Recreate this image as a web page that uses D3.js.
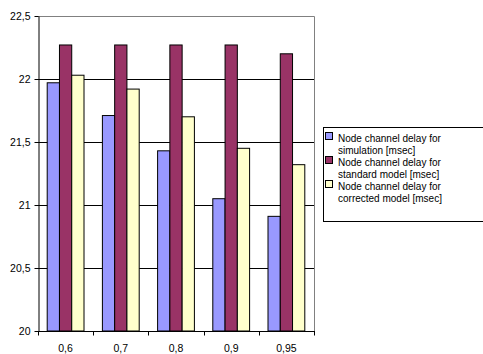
<!DOCTYPE html>
<html>
<head>
<meta charset="utf-8">
<script src="https://cdn.jsdelivr.net/npm/d3@7"></script>
<style>
  html, body { margin: 0; padding: 0; background: #fff; }
  svg { display: block; font-family: Arial, "Liberation Sans", sans-serif; }
</style>
</head>
<body>
<svg id="chart" width="483" height="354"></svg>
<script>
// Load factor categories and delay values per series (msec)
const categories = ["0,6", "0,7", "0,8", "0,9", "0,95"];
const simulation = [21.97, 21.71, 21.43, 21.05, 20.91];
const standardModel = [22.27, 22.27, 22.27, 22.27, 22.20];
const correctedModel = [22.03, 21.92, 21.70, 21.45, 21.32];
const seriesNames = [
  ["Node channel delay for", "simulation [msec]"],
  ["Node channel delay for", "standard model [msec]"],
  ["Node channel delay for", "corrected model [msec]"]
];
const seriesColors = ["#9999ff", "#993366", "#ffffcc"];
const yTicks = [20, 20.5, 21, 21.5, 22, 22.5];

const series = [simulation, standardModel, correctedModel];

const svg = d3.select("#chart");
const plot = { left: 38, right: 314, top: 16, bottom: 331 };

const x = d3.scaleBand().domain(categories).range([plot.left, plot.right]).padding(0);
const y = d3.scaleLinear().domain([20, 22.5]).range([plot.bottom, plot.top]);
const fmt = d => d3.format("")(d).replace(".", ",");

// Gridlines
svg.append("g")
  .selectAll("line")
  .data(yTicks.slice(1, -1))
  .join("line")
  .attr("x1", plot.left).attr("x2", plot.right)
  .attr("y1", d => Math.round(y(d)) + 0.5).attr("y2", d => Math.round(y(d)) + 0.5)
  .attr("stroke", "#000").attr("stroke-width", 1);

// Plot area frame (top and right)
svg.append("path")
  .attr("d", `M${plot.left},${plot.top + 0.5}H${plot.right + 0.5}V${plot.bottom}`)
  .attr("fill", "none").attr("stroke", "#808080").attr("stroke-width", 1);

// Bars: gap between groups is 150% of a bar width
const bw = x.bandwidth() / 4.5;
const groups = svg.append("g")
  .selectAll("g")
  .data(categories)
  .join("g");

groups.selectAll("rect")
  .data((c, ci) => series.map((s, si) => ({ c, si, v: s[ci] })))
  .join("rect")
  .attr("x", d => x(d.c) + 0.75 * bw + d.si * bw)
  .attr("width", bw)
  .attr("y", d => y(d.v))
  .attr("height", d => y(20) - y(d.v))
  .attr("fill", d => seriesColors[d.si])
  .attr("stroke", "#000")
  .attr("stroke-width", 1);

// Y axis
const yAxis = svg.append("g")
  .attr("transform", `translate(${plot.left + 0.5},0)`)
  .call(d3.axisLeft(y).tickValues(yTicks).tickFormat(fmt).tickSizeInner(4).tickSizeOuter(0).tickPadding(4));
yAxis.select(".domain").attr("stroke", "#000");
yAxis.selectAll("text").attr("font-size", 10.5).attr("fill", "#000");

// X axis: tick marks sit between categories
const xAxis = svg.append("g")
  .attr("transform", `translate(0,${plot.bottom + 0.5})`);
xAxis.append("line")
  .attr("x1", plot.left).attr("x2", plot.right + 1)
  .attr("stroke", "#000");
const boundaries = categories.map(c => x(c)).concat([plot.right]);
xAxis.selectAll(".tk")
  .data(boundaries)
  .join("line")
  .attr("class", "tk")
  .attr("x1", d => Math.round(d) + 0.5).attr("x2", d => Math.round(d) + 0.5)
  .attr("y1", 0).attr("y2", 4)
  .attr("stroke", "#000");
xAxis.selectAll("text")
  .data(categories)
  .join("text")
  .attr("x", d => x(d) + x.bandwidth() / 2)
  .attr("y", 20.5)
  .attr("text-anchor", "middle")
  .attr("font-size", 10.5)
  .text(d => d);

// Legend
const legend = svg.append("g");
legend.append("rect")
  .attr("x", 323.5).attr("y", 127.5)
  .attr("width", 170).attr("height", 94)
  .attr("fill", "#fff").attr("stroke", "#000").attr("stroke-width", 1);
const entry = legend.selectAll("g")
  .data(seriesNames)
  .join("g")
  .attr("transform", (d, i) => `translate(0,${i * 24})`);
entry.append("rect")
  .attr("x", 325.5).attr("y", 132.5)
  .attr("width", 7).attr("height", 7)
  .attr("fill", (d, i) => seriesColors[i])
  .attr("stroke", "#000");
entry.selectAll("text")
  .data(d => d)
  .join("text")
  .attr("x", 338)
  .attr("y", (d, j) => 141.5 + j * 12)
  .attr("font-size", 10)
  .attr("fill", "#000")
  .text(d => d);
</script>
</body>
</html>
